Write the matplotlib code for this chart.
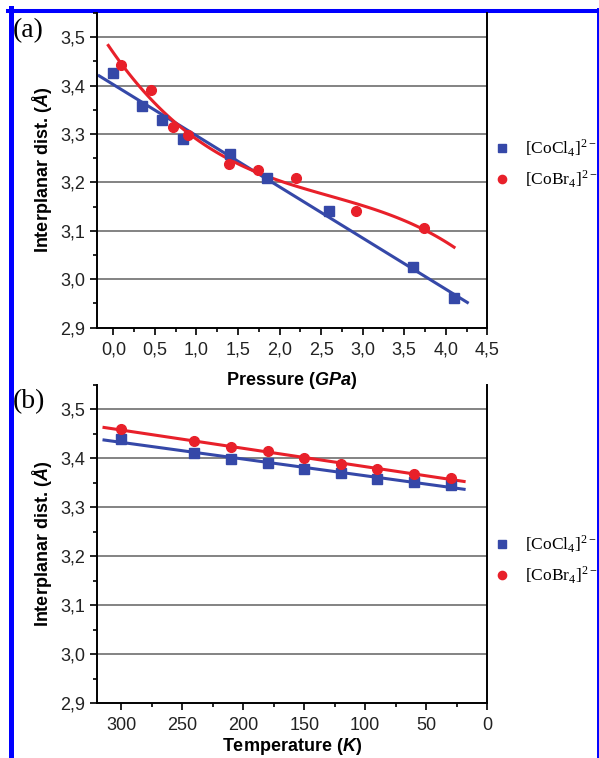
import numpy as np
import matplotlib
matplotlib.use('Agg')
import matplotlib.pyplot as plt
from matplotlib.ticker import MultipleLocator, FuncFormatter
from matplotlib.lines import Line2D

plt.rcParams['font.family'] = ['Liberation Sans', 'DejaVu Sans']
plt.rcParams['mathtext.fontset'] = 'custom'
plt.rcParams['mathtext.rm'] = 'Liberation Serif'
plt.rcParams['mathtext.it'] = 'Liberation Sans:italic:bold'
plt.rcParams['mathtext.bf'] = 'Liberation Sans:bold'

# (a) pressure series
p_cl = [0.00, 0.35, 0.59, 0.84, 1.40, 1.85, 2.60, 3.60, 4.10]
d_cl_p = [3.427, 3.358, 3.329, 3.290, 3.258, 3.210, 3.141, 3.026, 2.961]
p_br = [0.09, 0.45, 0.72, 0.90, 1.39, 1.74, 2.20, 2.92, 3.74]
d_br_p = [3.443, 3.391, 3.314, 3.298, 3.239, 3.226, 3.210, 3.141, 3.106]

# (b) temperature series
temps = [300, 240, 210, 180, 150, 120, 90, 60, 30]
d_cl_t = [3.439, 3.411, 3.399, 3.391, 3.378, 3.371, 3.359, 3.352, 3.346]
d_br_t = [3.460, 3.435, 3.424, 3.415, 3.400, 3.388, 3.378, 3.368, 3.361]

lab_cl = r'[CoCl$_4$]$^{2-}$'
lab_br = r'[CoBr$_4$]$^{2-}$'

blue = '#3548a8'
red = '#e8202a'

comma = FuncFormatter(lambda v, pos: f'{v:.1f}'.replace('.', ','))
W, H = 599, 758

fig = plt.figure(figsize=(5.99, 7.58), dpi=100)
ax1 = fig.add_axes([96.7 / W, 1 - 327.7 / H, 390.6 / W, 314.7 / H])
ax2 = fig.add_axes([96.7 / W, 1 - 703.3 / H, 390.6 / W, 318.3 / H])
ax2.patch.set_visible(False)
ax1.set_zorder(2)


def style(ax):
    ax.set_ylim(2.9, 3.55)
    ax.yaxis.set_major_locator(MultipleLocator(0.1))
    ax.yaxis.set_minor_locator(MultipleLocator(0.05))
    ax.yaxis.set_major_formatter(comma)
    for y in np.arange(3.0, 3.51, 0.1):
        ax.axhline(y, color='#7a7a7a', lw=1.3, zorder=0)
    ax.spines['top'].set_visible(False)
    for s in ['left', 'bottom', 'right']:
        ax.spines[s].set_linewidth(1.4)
    ax.tick_params(which='major', direction='out', length=5, width=1.4,
                   labelsize=13, pad=3, colors='#222222')
    ax.tick_params(axis='x', which='major', pad=5)
    ax.tick_params(which='minor', direction='out', length=3, width=1.2)
    ax.tick_params(right=False, top=False)
    ax.set_ylabel(r'Interplanar dist. ($\mathit{Å}$)', fontsize=13,
                  fontweight='bold', labelpad=5)


# panel (a)
style(ax1)
ax1.set_xlim(-0.2, 4.5)
ax1.xaxis.set_major_locator(MultipleLocator(0.5))
ax1.xaxis.set_minor_locator(MultipleLocator(0.25))
ax1.xaxis.set_major_formatter(comma)
xs = np.linspace(-0.17, 4.26, 100)
ax1.plot(xs, np.polyval(np.polyfit(p_cl, d_cl_p, 1), xs), color=blue, lw=2.2)
xs = np.linspace(-0.06, 4.10, 100)
ax1.plot(xs, np.polyval(np.polyfit(p_br, d_br_p, 3), xs), color=red, lw=2.2)
ax1.plot(p_cl, d_cl_p, 's', color=blue, ms=6.5, label=lab_cl, zorder=3)
ax1.plot(p_br, d_br_p, 'o', color=red, ms=7, label=lab_br, zorder=3)
ax1.set_xlabel(r'Pressure ($\mathit{GPa}$)', fontsize=13, fontweight='bold', labelpad=8)

# panel (b)
style(ax2)
ax2.set_xlim(320, 0)
ax2.xaxis.set_major_locator(MultipleLocator(50))
ax2.xaxis.set_minor_locator(MultipleLocator(25))
ts = np.linspace(314, 19, 100)
ax2.plot(ts, np.polyval(np.polyfit(temps, d_cl_t, 1), ts), color=blue, lw=2.2)
ax2.plot(ts, np.polyval(np.polyfit(temps, d_br_t, 1), ts), color=red, lw=2.2)
ax2.plot(temps, d_cl_t, 's', color=blue, ms=6.5, label=lab_cl, zorder=3)
ax2.plot(temps, d_br_t, 'o', color=red, ms=7, label=lab_br, zorder=3)
ax2.set_xlabel(r'Temperature ($\mathit{K}$)', fontsize=13, fontweight='bold', labelpad=1)

for ax, yc in [(ax1, 164), (ax2, 560)]:
    ax.legend(loc='center left', bbox_to_anchor=(494 / W, 1 - yc / H),
              bbox_transform=fig.transFigure, frameon=False,
              prop={'family': 'Liberation Serif', 'size': 12.5},
              handlelength=0.9, handletextpad=0.9, labelspacing=0.55,
              markerscale=0.85, borderaxespad=0, borderpad=0)

fig.text(13 / W, 1 - 31 / H, '(a)', family='Liberation Serif', fontsize=20,
         va='center', ha='left')
fig.text(13 / W, 1 - 402 / H, '(b)', family='Liberation Serif', fontsize=20,
         va='center', ha='left')

# blue frame around the figure
fig.add_artist(Line2D([10.5 / W, 10.5 / W], [0, 1 - 8 / H], color='#0000ff',
                      lw=3.6, transform=fig.transFigure))
fig.add_artist(Line2D([8 / W, 1], [1 - 11 / H, 1 - 11 / H], color='#0000ff',
                      lw=2.9, transform=fig.transFigure))
fig.add_artist(Line2D([597.5 / W, 597.5 / W], [0, 1 - 9 / H], color='#0000ff',
                      lw=1.4, transform=fig.transFigure))

fig.savefig('out.png', dpi=100)
